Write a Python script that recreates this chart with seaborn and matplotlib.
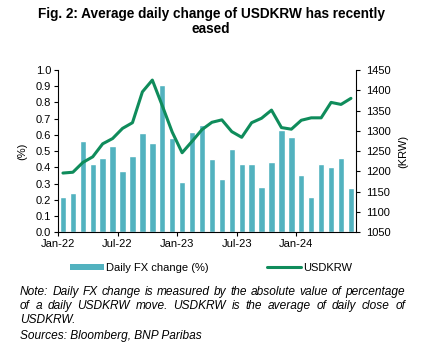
import matplotlib
matplotlib.use("Agg")
import matplotlib.pyplot as plt
import seaborn as sns
import pandas as pd
import numpy as np
from matplotlib.patches import Patch
from matplotlib.lines import Line2D

months = pd.date_range("2022-01-01", periods=30, freq="MS").strftime("%b-%y").tolist()
fx_change = [0.22, 0.24, 0.56, 0.42, 0.46, 0.53, 0.38, 0.47, 0.61, 0.55, 0.91, 0.58,
             0.31, 0.62, 0.66, 0.45, 0.33, 0.51, 0.42, 0.42, 0.28, 0.43, 0.63, 0.59,
             0.35, 0.22, 0.42, 0.40, 0.46, 0.27]
usdkrw = [1196, 1198, 1222, 1236, 1268, 1281, 1306, 1320, 1396, 1425, 1362, 1297,
          1246, 1274, 1303, 1321, 1327, 1298, 1284, 1320, 1331, 1351, 1308, 1304,
          1326, 1332, 1332, 1370, 1365, 1380]
tick_labels = ["Jan-22", "Jul-22", "Jan-23", "Jul-23", "Jan-24"]

sns.set_theme(style="white")
plt.rcParams["font.family"] = ["Liberation Sans", "DejaVu Sans"]
plt.rcParams["text.color"] = "black"
plt.rcParams["axes.labelcolor"] = "black"

bar_color = "#52B2BF"
line_color = "#0F8C5B"

df = pd.DataFrame({"month": months, "fx": fx_change, "krw": usdkrw, "pos": np.arange(len(months))})

W, H = 422, 347
fig = plt.figure(figsize=(W / 100, H / 100), dpi=100)
ax = fig.add_axes([0.1374, 0.3305, 0.706, 0.468])
sns.barplot(data=df, x="month", y="fx", color=bar_color, width=0.64, ax=ax, saturation=1)
ax2 = ax.twinx()
sns.lineplot(data=df, x="pos", y="krw", color=line_color, linewidth=2.2, ax=ax2)

ax.set_xlim(-0.5, len(months) - 0.5)
ax.set_ylim(0, 1.0)
ax.set_yticks(np.arange(0, 1.01, 0.1))
ax.set_yticklabels([f"{v:.1f}" for v in np.arange(0, 1.01, 0.1)])
ax2.set_ylim(1050, 1450)
ax2.set_yticks(np.arange(1050, 1451, 50))

tick_pos = [i - 0.5 for i, m in enumerate(months) if m in tick_labels]
ax.set_xticks(tick_pos)
ax.set_xticklabels(tick_labels)
ax.set_xlabel("")
ax.set_ylabel("(%)", fontsize=8, labelpad=6)
ax2.set_ylabel("(KRW)", fontsize=8, labelpad=6)
ax2.set_xlabel("")

for a in (ax, ax2):
    a.spines["top"].set_visible(False)
    for s in a.spines.values():
        s.set_color("black")
        s.set_linewidth(0.8)
ax.spines["right"].set_visible(False)
ax2.spines["left"].set_visible(False)
ax2.spines["bottom"].set_visible(False)

ax.tick_params(axis="both", which="both", direction="out", length=3, width=0.8,
               colors="black", labelsize=8, left=True, bottom=True, pad=2)
ax2.tick_params(axis="y", direction="out", length=3, width=0.8, colors="black",
                labelsize=8, right=True, pad=4)

fig.text(0.5, 1 - 14 / H, "Fig. 2: Average daily change of USDKRW has recently",
         ha="center", va="center", fontsize=9.8, fontweight="bold")
fig.text(0.5, 1 - 29 / H, "eased",
         ha="center", va="center", fontsize=9.8, fontweight="bold")

handles = [Patch(facecolor=bar_color, edgecolor="none", label="Daily FX change (%)"),
           Line2D([0], [0], color=line_color, linewidth=2.2, label="USDKRW")]
fig.legend(handles=handles, loc="center", bbox_to_anchor=(0.5, 0.228), ncol=2,
           frameon=False, fontsize=8, handlelength=3.0, handleheight=0.55,
           handletextpad=0.2, columnspacing=5.3)

notes = ["Note: Daily FX change is measured by the absolute value of percentage",
         "of a daily USDKRW move. USDKRW is the average of daily close of",
         "USDKRW.",
         "Sources: Bloomberg, BNP Paribas"]
justify = [True, True, False, False]
ys = [292, 306, 320, 336]
x0, x1 = 20, 405
note_fs = 8.6
renderer = fig.canvas.get_renderer()
for t, y, j in zip(notes, ys, justify):
    yf = 1 - y / H
    if not j:
        fig.text(x0 / W, yf, t, ha="left", va="center", fontsize=note_fs, style="italic")
        continue
    words = t.split(" ")
    objs = [fig.text(0, yf, w, ha="left", va="center", fontsize=note_fs, style="italic") for w in words]
    widths = [o.get_window_extent(renderer=renderer).width for o in objs]
    gap = (x1 - x0 - sum(widths)) / (len(words) - 1)
    x = x0
    for o, w in zip(objs, widths):
        o.set_x(x / W)
        x += w + gap

fig.savefig("out.png", dpi=100)
